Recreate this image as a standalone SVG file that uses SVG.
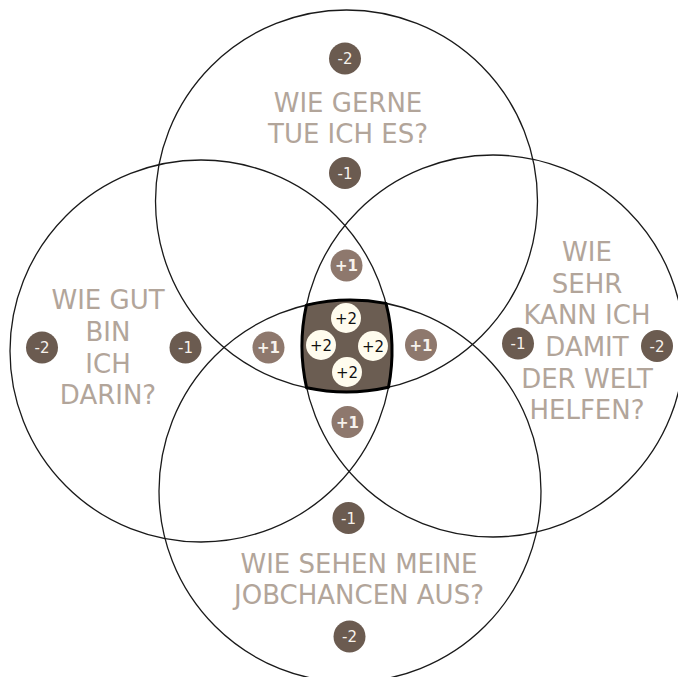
<svg xmlns="http://www.w3.org/2000/svg" width="678" height="677" viewBox="0 0 678 677">
<style>
.ring{fill:none;stroke:#1a1a1a;stroke-width:1.3}
.q{font-family:"DejaVu Sans",Verdana,sans-serif;font-size:26px;fill:#b2a59a;text-anchor:middle}
.bd{fill:#6b5b50}
.bl{fill:#8e786d}
.bt{font-family:"DejaVu Sans",Verdana,sans-serif;font-size:15px;fill:#f7f2ec;text-anchor:middle}
.bb{font-weight:bold}
.p2{fill:#fffcee}
.p2t{font-family:"DejaVu Sans",Verdana,sans-serif;font-size:15px;fill:#111;text-anchor:middle}
</style>
<rect width="678" height="677" fill="#ffffff"/>
<g id="connectors">
<circle class="ring" cx="346.5" cy="201" r="191"/>
<circle class="ring" cx="201" cy="351" r="191"/>
<circle class="ring" cx="493" cy="346" r="191"/>
<circle class="ring" cx="350" cy="491" r="191"/>
</g>
<g id="center">
<path d="M306.4 305.1 A191 191 0 0 1 386 303.4 A191 191 0 0 1 388.5 387.3 A191 191 0 0 1 306.6 387.8 A191 191 0 0 1 306.4 305.1 Z" fill="#6b5d52" stroke="#000" stroke-width="3" stroke-linejoin="round"/>
<circle class="p2" cx="346" cy="318" r="15"/><text class="p2t" x="346" y="323.5">+2</text>
<circle class="p2" cx="321" cy="345" r="15"/><text class="p2t" x="321" y="350.5">+2</text>
<circle class="p2" cx="373" cy="346" r="15"/><text class="p2t" x="373" y="351.5">+2</text>
<circle class="p2" cx="347" cy="372" r="15"/><text class="p2t" x="347" y="377.5">+2</text>
</g>
<g id="top">
<text class="q" x="348" y="112">WIE GERNE</text>
<text class="q" x="348" y="143">TUE ICH ES?</text>
<circle class="bd" cx="345" cy="58.5" r="16"/><text class="bt" x="345" y="64">-2</text>
<circle class="bd" cx="345" cy="173" r="16"/><text class="bt" x="345" y="178.5">-1</text>
</g>
<g id="left">
<text class="q" x="108" y="309">WIE GUT</text>
<text class="q" x="108" y="341">BIN</text>
<text class="q" x="108" y="372.5">ICH</text>
<text class="q" x="108" y="404">DARIN?</text>
<circle class="bd" cx="42" cy="347.5" r="16"/><text class="bt" x="42" y="353">-2</text>
<circle class="bd" cx="185.5" cy="347.5" r="16"/><text class="bt" x="185.5" y="353">-1</text>
</g>
<g id="right">
<text class="q" x="587" y="261">WIE</text>
<text class="q" x="587" y="292.5">SEHR</text>
<text class="q" x="587" y="324">KANN ICH</text>
<text class="q" x="587" y="356">DAMIT</text>
<text class="q" x="587" y="387.5">DER WELT</text>
<text class="q" x="587" y="419">HELFEN?</text>
<circle class="bd" cx="518" cy="343.5" r="16"/><text class="bt" x="518" y="349">-1</text>
<circle class="bd" cx="657" cy="346" r="16"/><text class="bt" x="657" y="351.5">-2</text>
</g>
<g id="bottom">
<text class="q" x="359" y="572.5">WIE SEHEN MEINE</text>
<text class="q" x="359" y="604">JOBCHANCEN AUS?</text>
<circle class="bd" cx="348.5" cy="518" r="16"/><text class="bt" x="348.5" y="523.5">-1</text>
<circle class="bd" cx="349.5" cy="636.5" r="16"/><text class="bt" x="349.5" y="642">-2</text>
</g>
<g id="lens-top"><circle class="bl" cx="346.5" cy="265.5" r="16"/><text class="bt bb" x="346.5" y="271">+1</text></g>
<g id="lens-left"><circle class="bl" cx="268.5" cy="347.5" r="16"/><text class="bt bb" x="268.5" y="353">+1</text></g>
<g id="lens-right"><circle class="bl" cx="421" cy="345" r="16"/><text class="bt bb" x="421" y="350.5">+1</text></g>
<g id="lens-bottom"><circle class="bl" cx="347.5" cy="422" r="16"/><text class="bt bb" x="347.5" y="427.5">+1</text></g>
</svg>
